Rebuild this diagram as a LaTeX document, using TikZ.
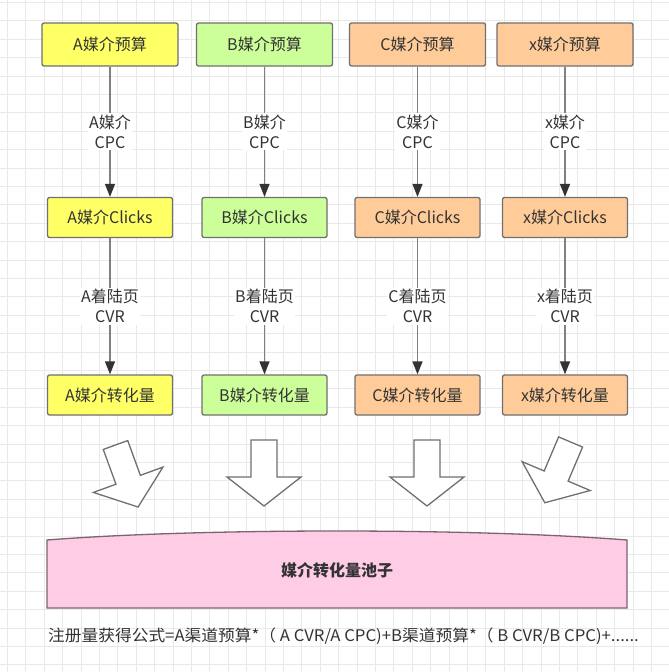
\documentclass[tikz,border=0pt]{standalone}
\usepackage{fontspec}
\setmainfont{Noto Sans CJK SC}
\usetikzlibrary{arrows.meta}
\definecolor{gridc}{HTML}{E9E9E9}
\definecolor{boxline}{HTML}{707070}
\definecolor{txt}{HTML}{333333}
\definecolor{linegray}{HTML}{808080}
\definecolor{tipc}{HTML}{333333}
\definecolor{yel}{HTML}{FFFF66}
\definecolor{grn}{HTML}{CCFF99}
\definecolor{org}{HTML}{FFCC99}
\definecolor{pinkf}{HTML}{FFCCE6}
\definecolor{pinkl}{HTML}{7A6470}
\begin{document}
\begin{tikzpicture}[x=1pt,y=-1pt,
  txtfont/.style={font=\fontsize{16}{20}\selectfont},
  box/.style={draw=boxline, line width=1.3pt, rounded corners=2pt, text=txt, txtfont, inner sep=0pt},
  topbox/.style={box, minimum width=136pt, minimum height=43pt},
  midbox/.style={box, minimum width=125pt, minimum height=40pt},
  flow/.style={draw=linegray, line width=1.5pt, -{Triangle[width=10pt,length=13pt,color=tipc]}},
  lab/.style={fill=white, text=txt, align=center, inner sep=1.5pt, txtfont},
  barrow/.style={draw=boxline, line width=1.3pt, fill=white, line join=miter},
]
\useasboundingbox (0,0) rectangle (669,672);
\fill[white] (0,0) rectangle (669,672);
% grid
\foreach \i in {0,...,36} {
  \draw[gridc, line width=0.8pt] ({7.3+18.4*\i},0) -- ({7.3+18.4*\i},672);
}
\foreach \j in {0,...,36} {
  \draw[gridc, line width=0.8pt] (0,{2.4+18.4*\j}) -- (669,{2.4+18.4*\j});
}
% top row
\node[topbox, fill=yel] (a1) at (110,44.5) {A媒介预算};
\node[topbox, fill=grn] (b1) at (264.5,44.5) {B媒介预算};
\node[topbox, fill=org] (c1) at (417.5,44.5) {C媒介预算};
\node[topbox, fill=org] (x1) at (565,44.5) {x媒介预算};
% clicks row
\node[midbox, fill=yel] (a2) at (110,217.5) {A媒介Clicks};
\node[midbox, fill=grn] (b2) at (264.5,217.5) {B媒介Clicks};
\node[midbox, fill=org] (c2) at (417.5,217.5) {C媒介Clicks};
\node[midbox, fill=org] (x2) at (565,217.5) {x媒介Clicks};
% conversion row
\node[midbox, fill=yel] (a3) at (110,395) {A媒介转化量};
\node[midbox, fill=grn] (b3) at (264.5,395) {B媒介转化量};
\node[midbox, fill=org] (c3) at (417.5,395) {C媒介转化量};
\node[midbox, fill=org] (x3) at (565,395) {x媒介转化量};
% connectors
\draw[flow] (a1) -- node[lab, midway] {A媒介\\CPC} (a2);
\draw[flow] (b1) -- node[lab, midway] {B媒介\\CPC} (b2);
\draw[flow] (c1) -- node[lab, midway] {C媒介\\CPC} (c2);
\draw[flow] (x1) -- node[lab, midway] {x媒介\\CPC} (x2);
\draw[flow] (a2) -- node[lab, midway] {A着陆页\\CVR} (a3);
\draw[flow] (b2) -- node[lab, midway] {B着陆页\\CVR} (b3);
\draw[flow] (c2) -- node[lab, midway] {C着陆页\\CVR} (c3);
\draw[flow] (x2) -- node[lab, midway] {x着陆页\\CVR} (x3);
% block arrows
\draw[barrow, shift={(115.5,445)}, rotate=20] (-13,0) -- (13,0) -- (13,37) -- (37,37) -- (0,66) -- (-37,37) -- (-13,37) -- cycle;
\draw[barrow, shift={(264,440)}] (-13,0) -- (13,0) -- (13,37) -- (37,37) -- (0,66) -- (-37,37) -- (-13,37) -- cycle;
\draw[barrow, shift={(427,440)}] (-13,0) -- (13,0) -- (13,37) -- (37,37) -- (0,66) -- (-37,37) -- (-13,37) -- cycle;
\draw[barrow, shift={(570.6,442)}, rotate=-23] (-13,0) -- (13,0) -- (13,37) -- (37,37) -- (0,66) -- (-37,37) -- (-13,37) -- cycle;
% pool
\draw[draw=pinkl, fill=pinkf, line width=1.3pt] (47,540) .. controls (200,528) and (474,528) .. (627,540) -- (627,608) -- (47,608) -- cycle;
\node[text=txt, font=\fontsize{16}{20}\selectfont\bfseries] (pool) at (337,570) {媒介转化量池子};
% formula
\node[anchor=west, text=txt, txtfont, inner sep=0pt] (formula) at (48,636) {\scalebox{1.045}[1]{注册量获得公式=A渠道预算*（ A CVR/A CPC)+B渠道预算*（ B CVR/B CPC)+......}};
\end{tikzpicture}
\end{document}
